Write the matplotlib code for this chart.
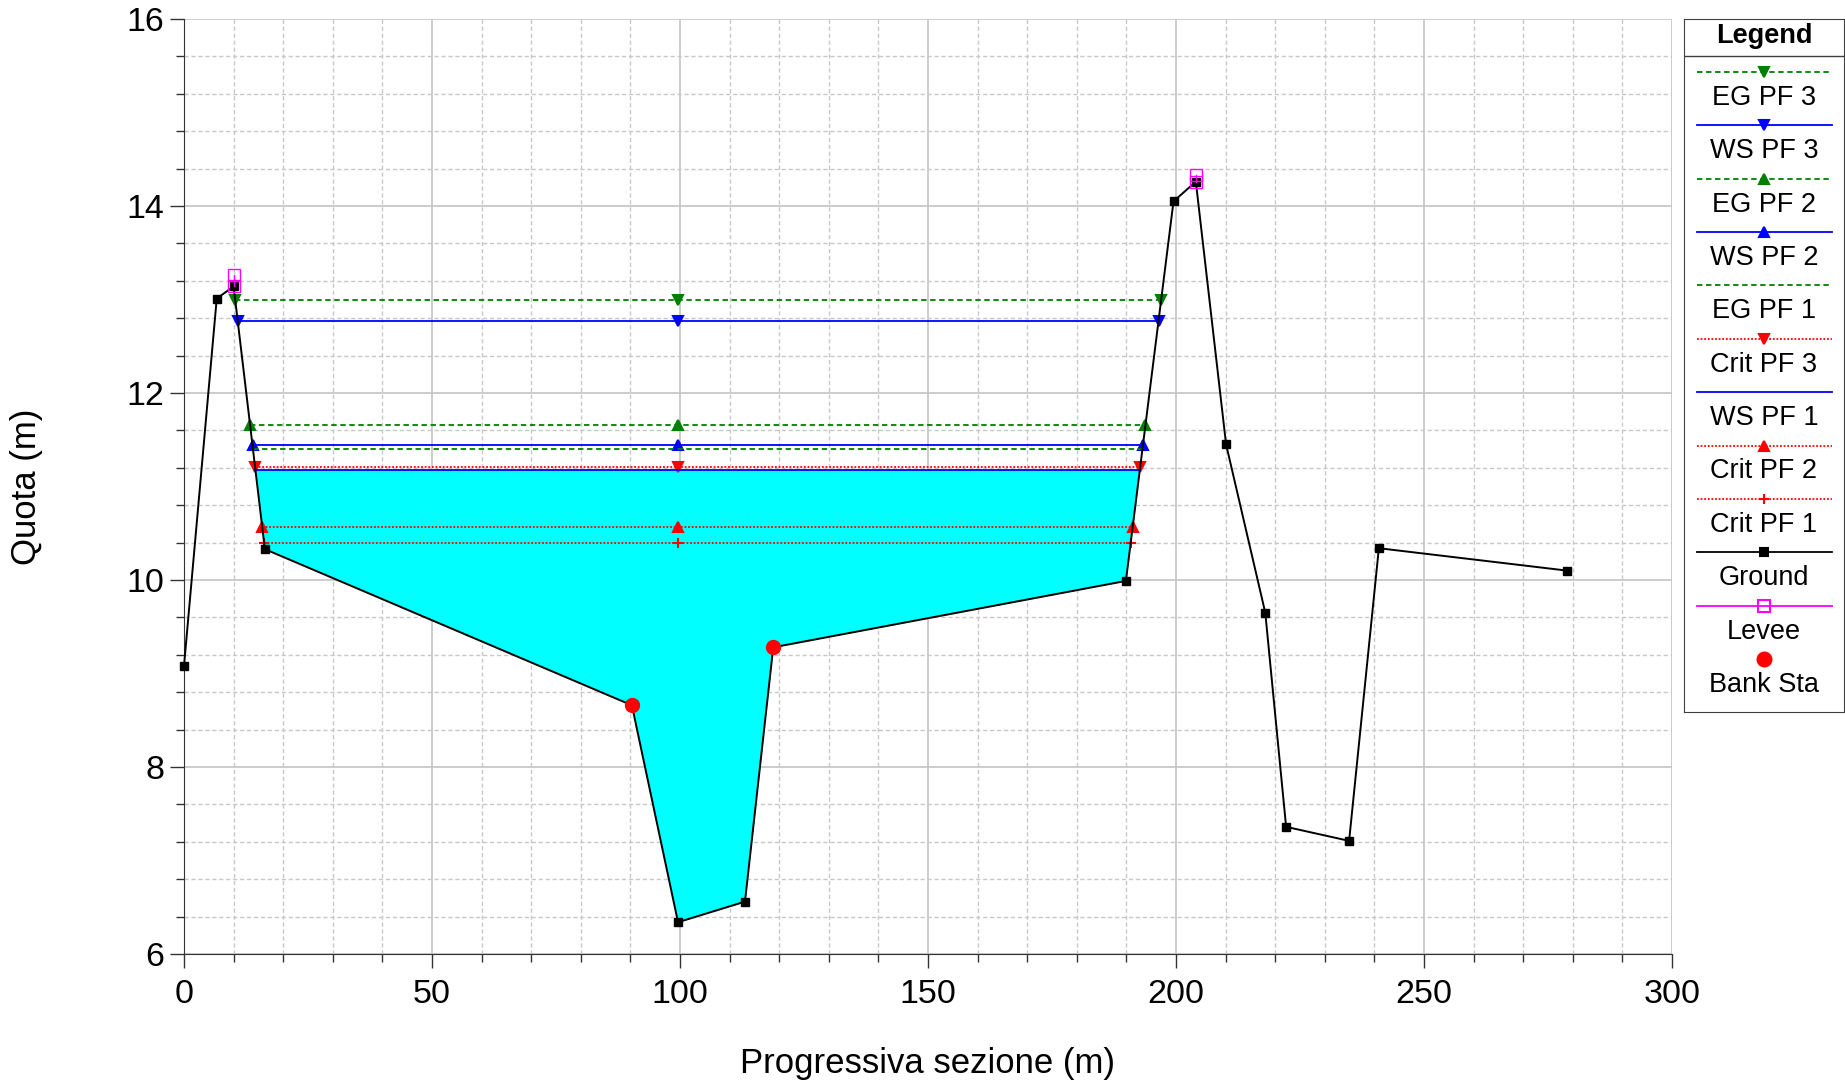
import numpy as np
import matplotlib.pyplot as plt
from matplotlib.ticker import MultipleLocator

plt.rcParams['font.family'] = ['Liberation Sans', 'DejaVu Sans']

# cross section: station (m) and ground elevation (m)
station = [0.0, 6.6, 10.0, 16.3, 90.3, 99.6, 113.1, 118.8, 189.9, 199.5, 204.0,
           210.1, 218.0, 222.2, 234.9, 240.9, 278.9]
ground = [9.08, 13.01, 13.14, 10.33, 8.66, 6.34, 6.56, 9.28, 9.99, 14.05, 14.26,
          11.45, 9.65, 7.36, 7.21, 10.34, 10.10]

bank_sta = [90.3, 118.8]
levee_sta = [10.0, 204.0]
levee_elev = [13.26, 14.33]

# computed profiles (energy grade, water surface, critical depth)
profile_names = ['EG PF 3', 'WS PF 3', 'EG PF 2', 'WS PF 2', 'EG PF 1',
                 'Crit PF 3', 'WS PF 1', 'Crit PF 2', 'Crit PF 1']
profile_levels = [12.99, 12.77, 11.66, 11.44, 11.40, 11.21, 11.18, 10.57, 10.40]

EG = dict(color='#008000', ls=(0, (3, 2)))
WS = dict(color='#0000ff', ls='-')
CR = dict(color='#ff0000', ls=(0, (1, 1)))
styles = {
    'EG PF 3': dict(EG, marker='v'),
    'WS PF 3': dict(WS, marker='v'),
    'EG PF 2': dict(EG, marker='^'),
    'WS PF 2': dict(WS, marker='^'),
    'EG PF 1': dict(EG, marker=None),
    'Crit PF 3': dict(CR, marker='v'),
    'WS PF 1': dict(WS, marker=None),
    'Crit PF 2': dict(CR, marker='^'),
    'Crit PF 1': dict(CR, marker='+'),
}

gx = np.array(station)
gy = np.array(ground)
thalweg = int(np.argmin(gy))


def wet_limits(level):
    l = thalweg
    while gy[l] < level:
        l -= 1
    xl = np.interp(level, [gy[l + 1], gy[l]], [gx[l + 1], gx[l]])
    r = thalweg
    while gy[r] < level:
        r += 1
    xr = np.interp(level, [gy[r - 1], gy[r]], [gx[r - 1], gx[r]])
    return xl, xr, l, r


fig = plt.figure(figsize=(18.45, 10.84), dpi=100)
ax = fig.add_axes([184 / 1845, 130 / 1084, 1488 / 1845, 935 / 1084])

# wetted area for WS PF 1
ws1 = profile_levels[profile_names.index('WS PF 1')]
xl, xr, l, r = wet_limits(ws1)
fx = np.concatenate([[xl], gx[l + 1:r], [xr]])
fy = np.concatenate([[ws1], gy[l + 1:r], [ws1]])
ax.fill_between(fx, fy, ws1, color='#00ffff', lw=0, zorder=2)

for name, lev in zip(profile_names, profile_levels):
    xl, xr, _, _ = wet_limits(lev)
    st = styles[name]
    ax.plot([xl, gx[thalweg], xr], [lev] * 3, color=st['color'], ls=st['ls'], lw=1.3,
            marker=st['marker'], ms=7, mew=1.5, zorder=3)

ax.plot(gx, gy, color='black', lw=1.4, marker='s', ms=6, zorder=4, clip_on=False)

for xs, le in zip(levee_sta, levee_elev):
    g = np.interp(xs, gx, gy)
    ax.plot([xs, xs], [g, le], color='#ff00ff', lw=1, marker='s', ms=9,
            mfc='none', mew=1, zorder=5)

ax.plot(bank_sta, np.interp(bank_sta, gx, gy), ls='none', marker='o', ms=10,
        color='#ff0000', zorder=6)

ax.set_xlim(0, 300)
ax.set_ylim(6, 16)
ax.xaxis.set_major_locator(MultipleLocator(50))
ax.xaxis.set_minor_locator(MultipleLocator(10))
ax.yaxis.set_major_locator(MultipleLocator(2))
ax.yaxis.set_minor_locator(MultipleLocator(0.4))
ax.set_axisbelow(True)
ax.grid(which='major', color='#c8c8c8', lw=1.3, ls='-')
ax.grid(which='minor', color='#c8c8c8', lw=1.0, ls=(0, (3, 2)))
ax.tick_params(which='major', direction='out', length=10, width=1, labelsize=24.5,
               color='#333333')
ax.tick_params(axis='x', which='major', pad=8)
ax.tick_params(axis='y', which='major', pad=4)
ax.tick_params(which='minor', direction='out', length=6, width=1, color='#333333')
for s in ['top', 'right']:
    ax.spines[s].set_visible(False)
for s in ['left', 'bottom']:
    ax.spines[s].set_color('#333333')
ax.set_xlabel('Progressiva sezione (m)', fontsize=25, labelpad=27)
ax.set_ylabel('Quota (m)', fontsize=25, labelpad=60)

# legend panel
lx0, lx1, ly0, ly1 = 1684, 1844, 19, 712
lg = fig.add_axes([lx0 / 1845, (1084 - ly1) / 1084, (lx1 - lx0) / 1845, (ly1 - ly0) / 1084])
lg.set_xlim(lx0, lx1)
lg.set_ylim(ly1, ly0)
lg.set_xticks([])
lg.set_yticks([])
for s in lg.spines.values():
    s.set_color('#404040')
xm = (lx0 + lx1) / 2
lg.text(xm, 36, 'Legend', fontsize=19.5, fontweight='bold', ha='center', va='center')
lg.plot([lx0, lx1], [56, 56], color='#404040', lw=1)

legend_names = profile_names + ['Ground', 'Levee', 'Bank Sta']
legend_styles = dict(styles)
legend_styles['Ground'] = dict(color='black', ls='-', marker='s')
legend_styles['Levee'] = dict(color='#ff00ff', ls='-', marker='s')
legend_styles['Bank Sta'] = dict(color='#ff0000', ls='none', marker='o')
for i, name in enumerate(legend_names):
    yl = 71.7 + 53.4 * i
    st = legend_styles[name]
    ms = {'s': 6, 'o': 10}.get(st['marker'], 7)
    mfc = 'none' if name == 'Levee' else st['color']
    if name == 'Levee':
        ms = 9
    lg.plot([1697, xm, 1832], [yl] * 3, color=st['color'], ls=st['ls'], lw=1.3,
            marker=st['marker'], markevery=[1], ms=ms, mfc=mfc, mew=1.5)
    lg.text(xm, yl + 26, name, fontsize=19.5, ha='center', va='center')

fig.savefig('out.png', dpi=100)
